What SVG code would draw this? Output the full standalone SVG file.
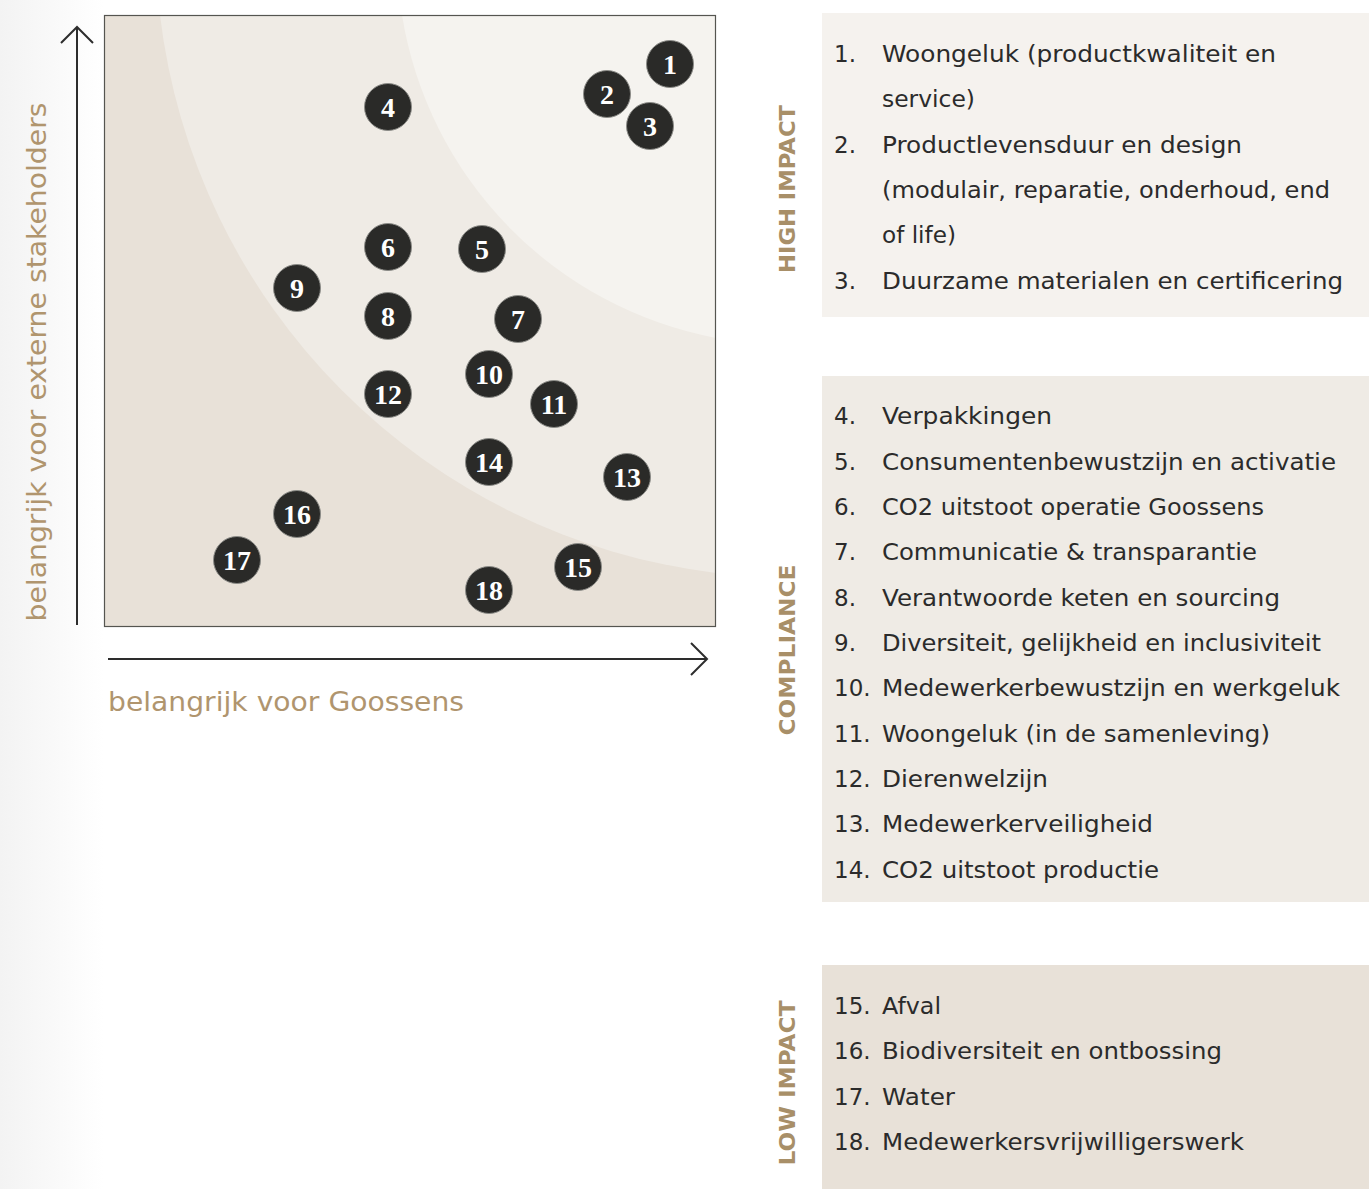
<svg xmlns="http://www.w3.org/2000/svg" width="1369" height="1189" viewBox="0 0 1369 1189">
<defs>
<linearGradient id="lg" x1="0" y1="0" x2="1" y2="0">
<stop offset="0" stop-color="#f3f3f3"/>
<stop offset="1" stop-color="#ffffff"/>
</linearGradient>
</defs>
<style>
.dot{fill:#2a2a28;stroke:#8c8c88;stroke-width:1}
.num{font-family:"Liberation Serif",serif;font-weight:bold;font-size:28px;fill:#ffffff;text-anchor:middle}
.item{font-family:"DejaVu Sans","Liberation Sans",sans-serif;font-size:23px;fill:#2b2b2b}
.gold{font-family:"DejaVu Sans","Liberation Sans",sans-serif;fill:#b0956e}
.side{font-family:"DejaVu Sans","Liberation Sans",sans-serif;font-weight:bold;font-size:22px;fill:#a88f68;text-anchor:middle}
.ax{fill:none;stroke:#2d2d2d;stroke-width:2}
</style>
<rect x="0" y="0" width="1369" height="1189" fill="#ffffff"/>
<rect x="0" y="0" width="104" height="1189" fill="url(#lg)"/>

<g id="chart">
<rect x="104" y="15" width="612" height="612" fill="#e8e1d8"/>
<path d="M160,15 A638,638 0 0,0 716,573 L716,15 Z" fill="#efebe5"/>
<path d="M402,15 A392,392 0 0,0 716,338 L716,15 Z" fill="#f5f3ef"/>
<rect x="104.5" y="15.5" width="611" height="611" fill="none" stroke="#555550" stroke-width="1.2"/>
</g>

<g id="axes">
<line class="ax" x1="77" y1="27" x2="77" y2="625"/>
<polyline class="ax" points="61,43 77,27 93,43"/>
<line class="ax" x1="108" y1="659" x2="707" y2="659"/>
<polyline class="ax" points="691,643 707,659 691,675"/>
</g>

<text class="gold" font-size="27" transform="translate(46,362) rotate(-90)" text-anchor="middle" textLength="519" lengthAdjust="spacingAndGlyphs">belangrijk voor externe stakeholders</text>
<text class="gold" font-size="26" x="108" y="711" textLength="356" lengthAdjust="spacingAndGlyphs">belangrijk voor Goossens</text>

<g id="n1"><circle class="dot" cx="670" cy="64" r="23.5"/><text class="num" x="670" y="74">1</text></g>
<g id="n2"><circle class="dot" cx="607" cy="94" r="23.5"/><text class="num" x="607" y="104">2</text></g>
<g id="n3"><circle class="dot" cx="650" cy="126" r="23.5"/><text class="num" x="650" y="136">3</text></g>
<g id="n4"><circle class="dot" cx="388" cy="107" r="23.5"/><text class="num" x="388" y="117">4</text></g>
<g id="n5"><circle class="dot" cx="482" cy="249" r="23.5"/><text class="num" x="482" y="259">5</text></g>
<g id="n6"><circle class="dot" cx="388" cy="247" r="23.5"/><text class="num" x="388" y="257">6</text></g>
<g id="n7"><circle class="dot" cx="518" cy="319" r="23.5"/><text class="num" x="518" y="329">7</text></g>
<g id="n8"><circle class="dot" cx="388" cy="316" r="23.5"/><text class="num" x="388" y="326">8</text></g>
<g id="n9"><circle class="dot" cx="297" cy="288" r="23.5"/><text class="num" x="297" y="298">9</text></g>
<g id="n10"><circle class="dot" cx="489" cy="374" r="23.5"/><text class="num" x="489" y="384">10</text></g>
<g id="n11"><circle class="dot" cx="554" cy="404" r="23.5"/><text class="num" x="554" y="414">11</text></g>
<g id="n12"><circle class="dot" cx="388" cy="394" r="23.5"/><text class="num" x="388" y="404">12</text></g>
<g id="n13"><circle class="dot" cx="627" cy="477" r="23.5"/><text class="num" x="627" y="487">13</text></g>
<g id="n14"><circle class="dot" cx="489" cy="462" r="23.5"/><text class="num" x="489" y="472">14</text></g>
<g id="n15"><circle class="dot" cx="578" cy="567" r="23.5"/><text class="num" x="578" y="577">15</text></g>
<g id="n16"><circle class="dot" cx="297" cy="514" r="23.5"/><text class="num" x="297" y="524">16</text></g>
<g id="n17"><circle class="dot" cx="237" cy="560" r="23.5"/><text class="num" x="237" y="570">17</text></g>
<g id="n18"><circle class="dot" cx="489" cy="590" r="23.5"/><text class="num" x="489" y="600">18</text></g>

<g id="panel-high">
<rect x="822" y="13" width="547" height="304" fill="#f5f2ee"/>
<text class="side" transform="translate(795,189) rotate(-90)" textLength="168" lengthAdjust="spacingAndGlyphs">HIGH IMPACT</text>
<text class="item" x="834" y="62">1.</text><text class="item" x="882" y="62" textLength="394" lengthAdjust="spacingAndGlyphs">Woongeluk (productkwaliteit en</text>
<text class="item" x="882" y="107" textLength="93" lengthAdjust="spacingAndGlyphs">service)</text>
<text class="item" x="834" y="153">2.</text><text class="item" x="882" y="153" textLength="360" lengthAdjust="spacingAndGlyphs">Productlevensduur en design</text>
<text class="item" x="882" y="198" textLength="448" lengthAdjust="spacingAndGlyphs">(modulair, reparatie, onderhoud, end</text>
<text class="item" x="882" y="243" textLength="74" lengthAdjust="spacingAndGlyphs">of life)</text>
<text class="item" x="834" y="289">3.</text><text class="item" x="882" y="289" textLength="461" lengthAdjust="spacingAndGlyphs">Duurzame materialen en certificering</text>
</g>

<g id="panel-compliance">
<rect x="822" y="376" width="547" height="526" fill="#efebe5"/>
<text class="side" transform="translate(795,650) rotate(-90)" textLength="171" lengthAdjust="spacingAndGlyphs">COMPLIANCE</text>
<text class="item" x="834" y="424">4.</text><text class="item" x="882" y="424" textLength="170" lengthAdjust="spacingAndGlyphs">Verpakkingen</text>
<text class="item" x="834" y="470">5.</text><text class="item" x="882" y="470" textLength="454" lengthAdjust="spacingAndGlyphs">Consumentenbewustzijn en activatie</text>
<text class="item" x="834" y="515">6.</text><text class="item" x="882" y="515" textLength="382" lengthAdjust="spacingAndGlyphs">CO2 uitstoot operatie Goossens</text>
<text class="item" x="834" y="560">7.</text><text class="item" x="882" y="560" textLength="375" lengthAdjust="spacingAndGlyphs">Communicatie &amp; transparantie</text>
<text class="item" x="834" y="606">8.</text><text class="item" x="882" y="606" textLength="398" lengthAdjust="spacingAndGlyphs">Verantwoorde keten en sourcing</text>
<text class="item" x="834" y="651">9.</text><text class="item" x="882" y="651" textLength="439" lengthAdjust="spacingAndGlyphs">Diversiteit, gelijkheid en inclusiviteit</text>
<text class="item" x="834" y="696">10.</text><text class="item" x="882" y="696" textLength="458" lengthAdjust="spacingAndGlyphs">Medewerkerbewustzijn en werkgeluk</text>
<text class="item" x="834" y="742">11.</text><text class="item" x="882" y="742" textLength="388" lengthAdjust="spacingAndGlyphs">Woongeluk (in de samenleving)</text>
<text class="item" x="834" y="787">12.</text><text class="item" x="882" y="787" textLength="166" lengthAdjust="spacingAndGlyphs">Dierenwelzijn</text>
<text class="item" x="834" y="832">13.</text><text class="item" x="882" y="832" textLength="271" lengthAdjust="spacingAndGlyphs">Medewerkerveiligheid</text>
<text class="item" x="834" y="878">14.</text><text class="item" x="882" y="878" textLength="277" lengthAdjust="spacingAndGlyphs">CO2 uitstoot productie</text>
</g>

<g id="panel-low">
<rect x="822" y="965" width="547" height="224" fill="#e8e1d8"/>
<text class="side" transform="translate(795,1083) rotate(-90)" textLength="165" lengthAdjust="spacingAndGlyphs">LOW IMPACT</text>
<text class="item" x="834" y="1014">15.</text><text class="item" x="882" y="1014" textLength="59" lengthAdjust="spacingAndGlyphs">Afval</text>
<text class="item" x="834" y="1059">16.</text><text class="item" x="882" y="1059" textLength="340" lengthAdjust="spacingAndGlyphs">Biodiversiteit en ontbossing</text>
<text class="item" x="834" y="1105">17.</text><text class="item" x="882" y="1105" textLength="73" lengthAdjust="spacingAndGlyphs">Water</text>
<text class="item" x="834" y="1150">18.</text><text class="item" x="882" y="1150" textLength="362" lengthAdjust="spacingAndGlyphs">Medewerkersvrijwilligerswerk</text>
</g>
</svg>
